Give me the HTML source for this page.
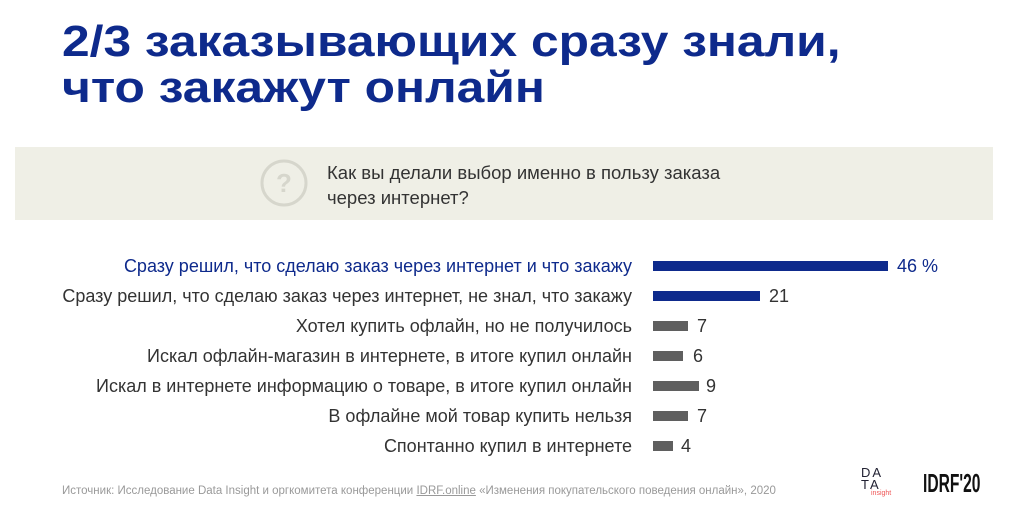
<!DOCTYPE html>
<html><head><meta charset="utf-8"><style>
body{margin:0;width:1023px;height:517px;background:#fff;font-family:"Liberation Sans",sans-serif;position:relative;overflow:hidden}
.t{position:absolute;left:62px;font-weight:bold;font-size:44px;color:#0e2a8c;line-height:46px;white-space:nowrap;transform:scaleX(1.13);transform-origin:left}
.box{position:absolute;left:15px;top:147px;width:978px;height:73px;background:#efefe6}
.q{position:absolute;left:327px;top:160px;font-size:18.5px;line-height:25px;color:#333}
.l{position:absolute;right:391px;font-size:18px;color:#333;white-space:nowrap;line-height:20px}
.b{position:absolute;left:653px;height:10px;background:#5f5f5f}
.v{position:absolute;font-size:18px;color:#333;line-height:20px}
.src{position:absolute;left:62px;top:485px;font-size:11.5px;color:#999}
</style></head><body>
<div class="t" style="top:19px">2/3 заказывающих сразу знали,</div>
<div class="t" style="top:65px">что закажут онлайн</div>
<div class="box"></div>
<svg style="position:absolute;left:258px;top:157px" width="52" height="52"><circle cx="26" cy="26" r="22" fill="none" stroke="#d6d6cc" stroke-width="3"/><text x="26" y="35" text-anchor="middle" font-size="26" font-family="Liberation Sans" fill="#d6d6cc" font-weight="bold">?</text></svg>
<div class="q">Как вы делали выбор именно в пользу заказа<br>через интернет?</div>

<div class="l" style="top:256px;color:#0e2a8c">Сразу решил, что сделаю заказ через интернет и что закажу</div>
<div class="b" style="top:261px;width:235px;background:#0e2a8c"></div><div class="v" style="top:256px;left:897px;color:#0e2a8c">46 %</div>
<div class="l" style="top:286px">Сразу решил, что сделаю заказ через интернет, не знал, что закажу</div>
<div class="b" style="top:291px;width:107px;background:#0e2a8c"></div><div class="v" style="top:286px;left:769px">21</div>
<div class="l" style="top:316px">Хотел купить офлайн, но не получилось</div>
<div class="b" style="top:321px;width:35px"></div><div class="v" style="top:316px;left:697px">7</div>
<div class="l" style="top:346px">Искал офлайн-магазин в интернете, в итоге купил онлайн</div>
<div class="b" style="top:351px;width:30px"></div><div class="v" style="top:346px;left:693px">6</div>
<div class="l" style="top:376px">Искал в интернете информацию о товаре, в итоге купил онлайн</div>
<div class="b" style="top:381px;width:46px"></div><div class="v" style="top:376px;left:706px">9</div>
<div class="l" style="top:406px">В офлайне мой товар купить нельзя</div>
<div class="b" style="top:411px;width:35px"></div><div class="v" style="top:406px;left:697px">7</div>
<div class="l" style="top:436px">Спонтанно купил в интернете</div>
<div class="b" style="top:441px;width:20px"></div><div class="v" style="top:436px;left:681px">4</div>

<div class="src">Источник: Исследование Data Insight и оргкомитета конференции <u>IDRF.online</u> «Изменения покупательского поведения онлайн», 2020</div>
<div style="position:absolute;left:861px;top:467px;font-size:13px;line-height:12px;color:#223;letter-spacing:2px">DA<br>TA</div>
<div style="position:absolute;left:871px;top:490px;font-size:7px;color:#e55">insight</div>
<div style="position:absolute;left:923px;top:468px;font-size:26px;font-weight:bold;color:#111;transform:scaleX(0.6);transform-origin:left">IDRF'20</div>
</body></html>
